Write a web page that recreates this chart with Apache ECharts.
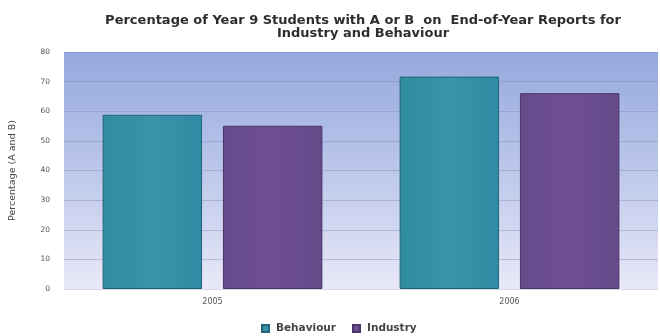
<!DOCTYPE html>
<html>
<head>
<meta charset="utf-8">
<script src="https://cdn.jsdelivr.net/npm/echarts@6/dist/echarts.min.js"></script>
<style>
  html, body { margin: 0; padding: 0; background: #ffffff; }
  #chart { width: 660px; height: 336px; }
</style>
</head>
<body>
<div id="chart"></div>
<script>
// Report years on the category axis
const years = ['2005', '2006'];
// Percentage of students with A or B grades
const behaviour = [58.8, 71.7];
const industry = [55.1, 66.1];
// Value axis ticks
const yMin = 0, yMax = 80, yStep = 10;

const chart = echarts.init(document.getElementById('chart'));

const bgGradient = new echarts.graphic.LinearGradient(0, 0, 0, 1, [
  { offset: 0, color: '#95a9dd' },
  { offset: 0.5, color: '#bcc7ea' },
  { offset: 1, color: '#e9e9f8' }
]);

chart.setOption({
  backgroundColor: '#ffffff',
  animation: false,
  title: {
    text: 'Percentage of Year 9 Students with A or B  on  End-of-Year Reports for\nIndustry and Behaviour',
    left: 358,
    textAlign: 'center',
    top: 9,
    textStyle: {
      fontFamily: 'DejaVu Sans, sans-serif',
      fontSize: 13,
      fontWeight: 'bold',
      color: '#2e2e2e',
      lineHeight: 13
    }
  },
  legend: {
    data: ['Behaviour', 'Industry'],
    left: 256,
    top: 318,
    itemWidth: 7,
    itemHeight: 7,
    itemGap: 16,
    icon: 'rect',
    textStyle: {
      fontFamily: 'DejaVu Sans, sans-serif',
      fontSize: 10.5,
      fontWeight: 'bold',
      color: '#444444',
      padding: [0, 0, 0, 2]
    }
  },
  grid: {
    left: 64,
    right: 2,
    top: 52,
    bottom: 47,
    show: true,
    backgroundColor: bgGradient,
    borderWidth: 0
  },
  xAxis: {
    type: 'category',
    data: years,
    axisLine: { show: true, lineStyle: { color: '#d8d8e8', width: 1 } },
    axisTick: { show: false },
    axisLabel: {
      fontFamily: 'DejaVu Sans, sans-serif',
      fontSize: 8,
      color: '#555555',
      margin: 9
    }
  },
  yAxis: {
    type: 'value',
    min: yMin,
    max: yMax,
    interval: yStep,
    name: 'Percentage (A and B)',
    nameLocation: 'middle',
    nameGap: 46,
    nameTextStyle: {
      fontFamily: 'DejaVu Sans, sans-serif',
      fontSize: 9.5,
      color: '#444444'
    },
    axisLine: { show: false },
    axisTick: { show: false },
    axisLabel: {
      fontFamily: 'DejaVu Sans, sans-serif',
      fontSize: 7.5,
      color: '#555555',
      margin: 14
    },
    splitLine: { show: true, lineStyle: { color: 'rgba(120,135,185,0.4)', width: 1 } }
  },
  series: [
    {
      name: 'Behaviour',
      type: 'bar',
      data: behaviour,
      barGap: '21%',
      barCategoryGap: '26%',
      itemStyle: {
        color: new echarts.graphic.LinearGradient(0, 0, 1, 0, [
          { offset: 0, color: '#2f8c9e' },
          { offset: 0.5, color: '#3b93aa' },
          { offset: 1, color: '#2f8aa3' }
        ]),
        borderColor: '#24657a',
        borderWidth: 1
      }
    },
    {
      name: 'Industry',
      type: 'bar',
      data: industry,
      itemStyle: {
        color: new echarts.graphic.LinearGradient(0, 0, 1, 0, [
          { offset: 0, color: '#664b8c' },
          { offset: 0.5, color: '#6e4f92' },
          { offset: 1, color: '#654a8a' }
        ]),
        borderColor: '#4a3468',
        borderWidth: 1
      }
    }
  ]
});
</script>
</body>
</html>
